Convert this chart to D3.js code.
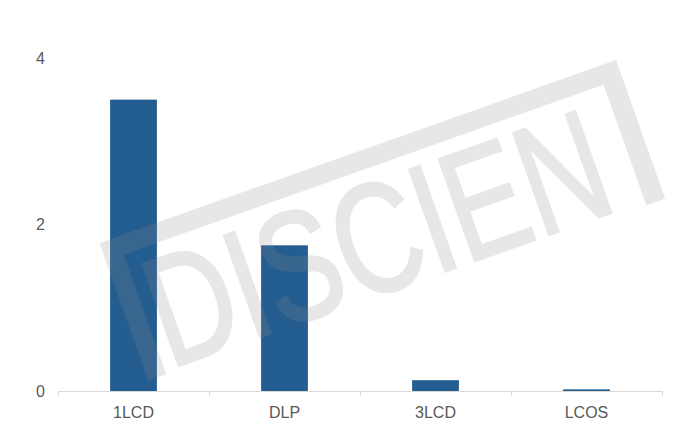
<!DOCTYPE html>
<html><head><meta charset="utf-8">
<script src="https://cdn.jsdelivr.net/npm/d3@7"></script>
<style>body{margin:0;background:#fff}svg{display:block}</style>
</head><body>
<svg id="c" width="680" height="441"></svg>
<script>
const categories = ["1LCD", "DLP", "3LCD", "LCOS"];
const values = [3.5, 1.75, 0.13, 0.02];
const yTicks = [0, 2, 4];

const svg = d3.select("#c");
const x = d3.scaleBand().domain(categories).range([58, 662]).paddingInner(0.69).paddingOuter(0.345);
const y = d3.scaleLinear().domain([0, 4]).range([391, 58]);

// bars
svg.append("g").selectAll("rect").data(values).join("rect")
  .attr("x", (d, i) => x(categories[i]))
  .attr("y", d => y(d))
  .attr("width", x.bandwidth())
  .attr("height", d => y(0) - y(d))
  .attr("fill", "#245d90");

// x axis
const band = d3.scaleBand().domain(categories).range([58, 662]);
const ax = svg.append("g");
ax.append("line").attr("x1", 58).attr("x2", 662).attr("y1", 391.5).attr("y2", 391.5)
  .attr("stroke", "#d9d9d9").attr("stroke-width", 1);
const bounds = categories.map(c => band(c)).concat([662]);
ax.selectAll("line.t").data(bounds).join("line").attr("class", "t")
  .attr("x1", d => Math.round(d) + 0.5).attr("x2", d => Math.round(d) + 0.5)
  .attr("y1", 391).attr("y2", 396).attr("stroke", "#d9d9d9");
ax.selectAll("text").data(categories).join("text")
  .attr("x", d => band(d) + band.bandwidth() / 2)
  .attr("y", 418)
  .attr("text-anchor", "middle")
  .attr("font-family", "Liberation Sans, Arial, sans-serif")
  .attr("font-size", 16).attr("fill", "#595959")
  .text(d => d);

// y labels
svg.append("g").selectAll("text").data(yTicks).join("text")
  .attr("x", 45).attr("y", d => y(d))
  .attr("dy", "0.36em")
  .attr("text-anchor", "end")
  .attr("font-family", "Liberation Sans, Arial, sans-serif")
  .attr("font-size", 16).attr("fill", "#595959")
  .text(d => d);

// watermark
const wm = svg.append("g")
  .attr("transform", "translate(99.5,243) rotate(-19.5)")
  .attr("fill", "#8a8a8a").attr("opacity", 0.2);
wm.append("path").attr("d", "M0,0 H548 V147 H528 V19 H19 V146 H0 Z");
wm.append("text").attr("x", 24).attr("y", 142)
  .attr("font-family", "Liberation Sans, Arial, sans-serif")
  .attr("font-size", 156)
  .attr("textLength", 478).attr("lengthAdjust", "spacingAndGlyphs")
  .attr("stroke", "#8a8a8a").attr("stroke-width", 3)
  .text("DISCIEN");
</script>
</body></html>
